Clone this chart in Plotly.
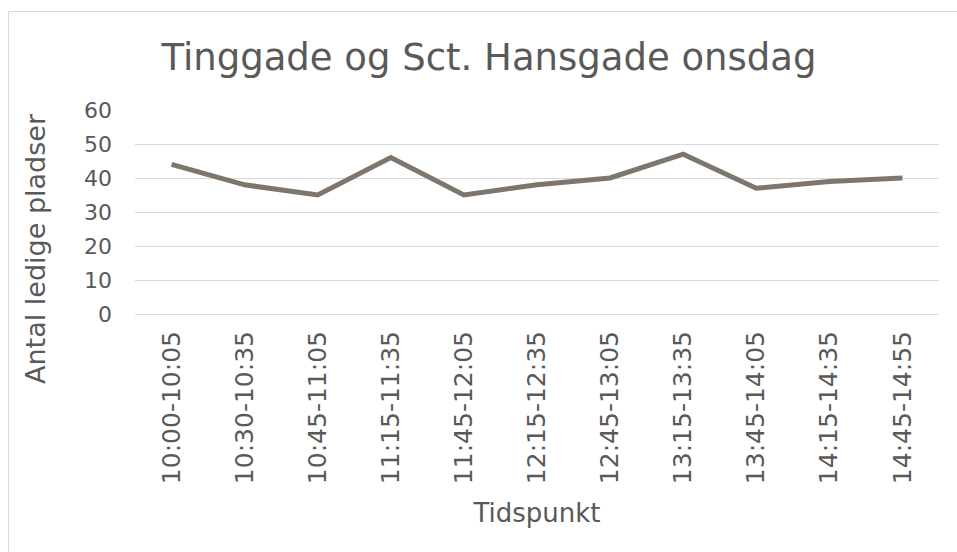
import plotly.graph_objects as go

categories = ["10:00-10:05", "10:30-10:35", "10:45-11:05", "11:15-11:35", "11:45-12:05",
              "12:15-12:35", "12:45-13:05", "13:15-13:35", "13:45-14:05", "14:15-14:35",
              "14:45-14:55"]
values = [44, 38, 35, 46, 35, 38, 40, 47, 37, 39, 40]
y_ticks = [0, 10, 20, 30, 40, 50, 60]

title_text = "Tinggade og Sct. Hansgade onsdag"
x_title = "Tidspunkt"
y_title = "Antal ledige pladser"

W, H = 957, 552
L, R, T, B = 135, 18, 110, 238
pw, ph = W - L - R, H - T - B

def px(x):
    return (x - L) / pw

def py(y):
    return (H - B - y) / ph

FONT = "DejaVu Sans, Verdana, sans-serif"
TXT = "#595959"

fig = go.Figure()
fig.add_trace(go.Scatter(
    x=categories, y=values, mode="lines",
    line=dict(color="#7E766C", width=5),
    hoverinfo="x+y", showlegend=False,
))

fig.update_layout(
    width=W, height=H,
    margin=dict(l=L, r=R, t=T, b=B, pad=0),
    paper_bgcolor="white", plot_bgcolor="white",
    font=dict(family=FONT, color=TXT),
    title=dict(text=title_text, font=dict(size=37, color=TXT, family=FONT),
               xref="container", x=489 / W, xanchor="center",
               yref="container", y=1 - 57 / H, yanchor="middle"),
    xaxis=dict(
        type="category", tickangle=-90, tickfont=dict(size=25, color=TXT),
        range=[-0.5, len(categories) - 0.5],
        showgrid=False, showline=True, linecolor="#d9d9d9", linewidth=1,
        ticks="", ticklabelstandoff=6,
        title=dict(text=x_title, font=dict(size=26, color=TXT), standoff=20),
    ),
    yaxis=dict(
        range=[0, 60], tickvals=y_ticks, tickfont=dict(size=22, color=TXT),
        showgrid=True, gridcolor="#d9d9d9", gridwidth=1,
        zeroline=False, showline=False, ticks="", ticklabelstandoff=22,
    ),
    annotations=[dict(text=y_title, textangle=-90, showarrow=False,
                      xref="paper", yref="paper", x=px(35), y=py(249),
                      xanchor="center", yanchor="middle",
                      font=dict(size=27, color=TXT, family=FONT))],
    shapes=[dict(type="rect", xref="paper", yref="paper",
                 x0=px(8.5), x1=px(980), y0=py(600), y1=py(11.5),
                 line=dict(color="#d9d9d9", width=1), fillcolor="rgba(0,0,0,0)",
                 layer="below")],
)

fig.write_html("out.html", config={"displayModeBar": False},
               post_script="document.body.style.margin='0';")
